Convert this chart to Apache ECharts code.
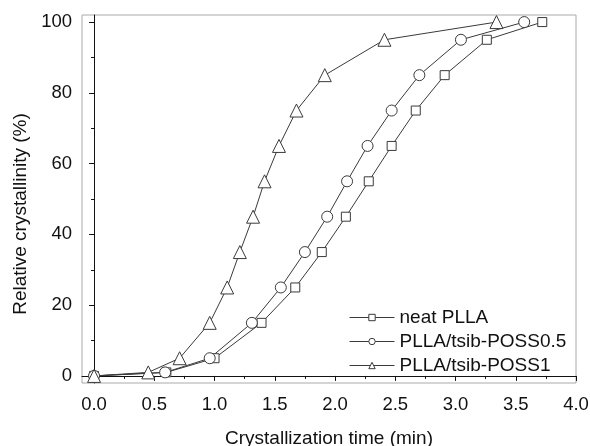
<!DOCTYPE html>
<html lang="en">
<head>
    <meta charset="UTF-8">
    <title>Relative crystallinity</title>
    <script src="https://cdn.jsdelivr.net/npm/echarts@6/dist/echarts.min.js"></script>
    <style>
        body { margin: 0; background: #fff; }
    </style>
</head>
<body>
    <div id="myChart" style="width: 590px;height: 446px;"></div>
    <script>
        // values: [time (min), relative crystallinity (%)]
        var neatPLLA = [[0, 0], [0.6, 1], [1.0, 5], [1.39, 15], [1.67, 25], [1.89, 35], [2.09, 45],
            [2.28, 55], [2.47, 65], [2.67, 75], [2.91, 85], [3.26, 95], [3.72, 100]];
        var poss05 = [[0, 0], [0.59, 1], [0.96, 5], [1.31, 15], [1.55, 25], [1.75, 35], [1.935, 45],
            [2.10, 55], [2.27, 65], [2.47, 75], [2.70, 85], [3.045, 95], [3.57, 100]];
        var poss1 = [[0, 0], [0.45, 1], [0.71, 5], [0.96, 15], [1.105, 25], [1.21, 35], [1.32, 45],
            [1.415, 55], [1.535, 65], [1.68, 75], [1.915, 85], [2.41, 95], [3.34, 100]];
        var names = ['neat PLLA', 'PLLA/tsib-POSS0.5', 'PLLA/tsib-POSS1'];
        var xMajor = [0, 0.5, 1, 1.5, 2, 2.5, 3, 3.5, 4];
        var xMinor = [0.25, 0.75, 1.25, 1.75, 2.25, 2.75, 3.25, 3.75];
        var yMajor = [0, 20, 40, 60, 80, 100];
        var yMinor = [10, 30, 50, 70, 90];

        var ink = '#3a3a3a';
        var font = 'Liberation Sans';

        function mkSeries(name, data, symbol, size) {
            return {
                name: name,
                type: 'line',
                data: data,
                symbol: symbol,
                symbolSize: size,
                showAllSymbol: true,
                lineStyle: { color: ink, width: 1 },
                itemStyle: { color: '#fff', borderColor: ink, borderWidth: 1 },
                emphasis: { disabled: true },
                animation: false
            };
        }

        var myChart = echarts.init(document.getElementById('myChart'));
        var option = {
            animation: false,
            grid: {
                left: 82, right: 14, top: 15, bottom: 63,
                outerBoundsMode: 'none',
                show: true, borderColor: '#aaa', borderWidth: 1
            },
            legend: {
                data: names,
                orient: 'vertical',
                left: 349, top: 308,
                padding: 0,
                itemWidth: 45, itemHeight: 8, itemGap: 5,
                lineStyle: { width: 1, color: ink },
                itemStyle: { color: '#fff', borderColor: ink, borderWidth: 1 },
                textStyle: { fontFamily: font, fontSize: 19, color: '#111' }
            },
            xAxis: [{
                type: 'value',
                min: -0.1, max: 4,
                name: 'Crystallization time (min)',
                nameLocation: 'middle',
                nameGap: 46,
                nameTextStyle: { fontFamily: font, fontSize: 19, color: '#111' },
                axisLine: { lineStyle: { color: '#111', width: 1 } },
                axisTick: { customValues: xMajor, length: 5, lineStyle: { color: '#111' } },
                axisLabel: {
                    customValues: xMajor, margin: 12,
                    fontFamily: font, fontSize: 18.5, color: '#111',
                    formatter: function (v) { return v.toFixed(1); }
                },
                splitLine: { show: false }
            }, {
                type: 'value',
                position: 'bottom',
                min: -0.1, max: 4,
                axisLine: { show: false },
                axisTick: { customValues: xMinor, length: 3, lineStyle: { color: '#111' } },
                axisLabel: { show: false },
                splitLine: { show: false }
            }],
            yAxis: [{
                type: 'value',
                min: -2, max: 102,
                name: 'Relative crystallinity (%)',
                nameLocation: 'middle',
                nameGap: 50,
                nameTextStyle: { fontFamily: font, fontSize: 19, color: '#111', padding: [0, 30, 0, 0] },
                axisLine: { show: true, lineStyle: { color: '#111', width: 1 } },
                axisTick: { show: true, customValues: yMajor, length: 5, lineStyle: { color: '#111' } },
                axisLabel: { customValues: yMajor, margin: 10, fontFamily: font, fontSize: 18.5, color: '#111' },
                splitLine: { show: false }
            }, {
                type: 'value',
                position: 'left',
                min: -2, max: 102,
                axisLine: { show: false },
                axisTick: { show: true, customValues: yMinor, length: 3, lineStyle: { color: '#111' } },
                axisLabel: { show: false },
                splitLine: { show: false }
            }],
            series: [
                mkSeries(names[0], neatPLLA, 'rect', 9),
                mkSeries(names[1], poss05, 'circle', 11),
                mkSeries(names[2], poss1, 'triangle', 13)
            ]
        };
        myChart.setOption(option);
    </script>
</body>
</html>
